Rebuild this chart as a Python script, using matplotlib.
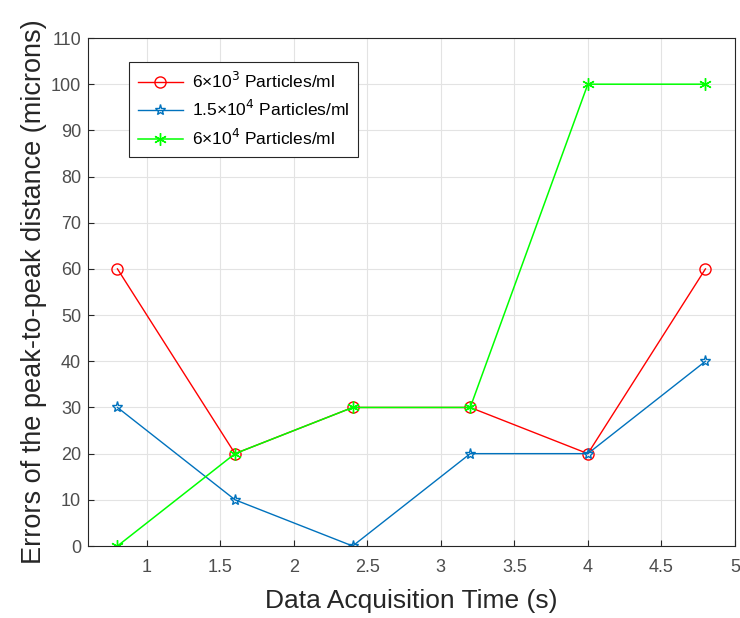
import matplotlib
matplotlib.use("Agg")
import matplotlib.pyplot as plt

plt.rcParams['font.family'] = ['Liberation Sans', 'DejaVu Sans']

time_s = [0.8, 1.6, 2.4, 3.2, 4.0, 4.8]
err_6e3 = [60, 20, 30, 30, 20, 60]
err_15e4 = [30, 10, 0, 20, 20, 40]
err_6e4 = [0, 20, 30, 30, 100, 100]

labels = [r'6×10$^3$ Particles/ml', r'1.5×10$^4$ Particles/ml', r'6×10$^4$ Particles/ml']
x_ticks = [1, 1.5, 2, 2.5, 3, 3.5, 4, 4.5, 5]
y_ticks = list(range(0, 111, 10))

fig = plt.figure(figsize=(7.4, 6.18), dpi=100)
ax = fig.add_axes([0.119, 0.1165, 0.874, 0.822])

ax.plot(time_s, err_6e3, color='#ff0000', marker='o', markersize=8, markerfacecolor='none',
        linewidth=1, label=labels[0])
ax.plot(time_s, err_15e4, color='#0072bd', marker='*', markersize=8, markerfacecolor='none',
        linewidth=1, label=labels[1])
ax.plot(time_s, err_6e4, color='#00ff00', marker=(6, 2, 0), markersize=9,
        linewidth=1.1, label=labels[2])

ax.set_xlim(0.6, 5)
ax.set_ylim(0, 110)
ax.set_xticks(x_ticks)
ax.set_xticklabels([f'{t:g}' for t in x_ticks])
ax.set_yticks(y_ticks)
ax.grid(True, color='#e3e3e3', linewidth=0.8)
ax.set_axisbelow(True)
ax.tick_params(colors='#262626', labelcolor='#4d4d4d', labelsize=13, direction='in', length=4)
ax.tick_params(axis='x', pad=9)
ax.tick_params(axis='y', pad=5)
for s in ax.spines.values():
    s.set_color('#262626')

ax.set_xlabel('Data Acquisition Time (s)', fontsize=19, color='#262626', labelpad=10)
ax.set_ylabel('Errors of the peak-to-peak distance (microns)', fontsize=19.5, color='#262626',
              labelpad=3)

leg = ax.legend(loc='upper left', bbox_to_anchor=(0.05, 0.97), fontsize=12.5, fancybox=False,
                edgecolor='#262626', framealpha=1, handlelength=2.6, borderpad=0.5,
                labelspacing=0.5, handletextpad=0.5)
leg.get_frame().set_linewidth(0.8)

fig.savefig('out.png', dpi=100)
